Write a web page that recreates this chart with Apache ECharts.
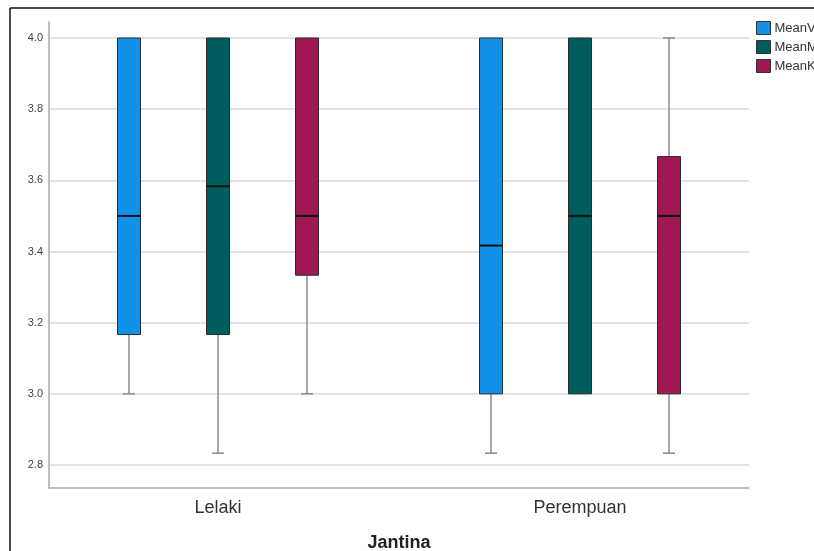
<!DOCTYPE html>
<html>
<head>
<meta charset="utf-8">
<script src="https://cdn.jsdelivr.net/npm/echarts@6/dist/echarts.min.js"></script>
<style>
html,body{margin:0;padding:0;background:#fff;}
#c{width:814px;height:551px;}
</style>
</head>
<body>
<div id="c"></div>
<script>
// ---- data ----
const categories = ['Lelaki', 'Perempuan'];
const seriesNames = ['MeanV', 'MeanM', 'MeanK'];
// each row: [min, Q1, median, Q3, max] per category
const meanV = [[3.0, 3.1667, 3.5, 4.0, 4.0], [2.8333, 3.0, 3.4167, 4.0, 4.0]];
const meanM = [[2.8333, 3.1667, 3.5833, 4.0, 4.0], [3.0, 3.0, 3.5, 4.0, 4.0]];
const meanK = [[3.0, 3.3333, 3.5, 4.0, 4.0], [2.8333, 3.0, 3.5, 3.6667, 4.0]];
const yTicks = [2.8, 3.0, 3.2, 3.4, 3.6, 3.8, 4.0];

const colors = ['#1192e8', '#005d5d', '#9f1853'];
const offsets = [-89, 0, 89];
const FONT = "'Liberation Sans', Arial, sans-serif";

const allSeries = [meanV, meanM, meanK];

function makeRender(idx) {
  return function (params, api) {
    const cat = api.value(0);
    const vmin = api.value(1), q1 = api.value(2), med = api.value(3), q3 = api.value(4), vmax = api.value(5);
    const pMin = api.coord([cat, vmin]);
    const pQ1 = api.coord([cat, q1]);
    const pMed = api.coord([cat, med]);
    const pQ3 = api.coord([cat, q3]);
    const pMax = api.coord([cat, vmax]);
    const cx = pMed[0] + offsets[idx];
    const bw = 23, cap = 12;
    const children = [];
    const wStyle = { stroke: '#8a8a8a', lineWidth: 1.5 };
    if (vmin < q1) {
      children.push({ type: 'line', shape: { x1: cx, y1: pQ1[1], x2: cx, y2: pMin[1] }, style: wStyle });
      children.push({ type: 'line', shape: { x1: cx - cap / 2, y1: pMin[1], x2: cx + cap / 2, y2: pMin[1] }, style: wStyle });
    }
    if (vmax > q3) {
      children.push({ type: 'line', shape: { x1: cx, y1: pQ3[1], x2: cx, y2: pMax[1] }, style: wStyle });
      children.push({ type: 'line', shape: { x1: cx - cap / 2, y1: pMax[1], x2: cx + cap / 2, y2: pMax[1] }, style: wStyle });
    }
    children.push({
      type: 'rect',
      shape: { x: cx - bw / 2, y: pQ3[1], width: bw, height: pQ1[1] - pQ3[1] },
      style: { fill: colors[idx], stroke: '#2b2b2b', lineWidth: 1 }
    });
    children.push({
      type: 'line',
      shape: { x1: cx - bw / 2, y1: pMed[1], x2: cx + bw / 2, y2: pMed[1] },
      style: { stroke: '#111', lineWidth: 2 }
    });
    return { type: 'group', children: children };
  };
}

const series = allSeries.map(function (arr, idx) {
  return {
    name: seriesNames[idx],
    type: 'custom',
    xAxisIndex: 2,
    yAxisIndex: 2,
    renderItem: makeRender(idx),
    itemStyle: { color: colors[idx], borderColor: '#333', borderWidth: 1 },
    encode: { x: 0, y: [1, 2, 3, 4, 5] },
    data: arr.map(function (r, ci) { return [ci].concat(r); })
  };
});

const chart = echarts.init(document.getElementById('c'), null, { renderer: 'canvas' });
chart.setOption({
  backgroundColor: '#fff',
  animation: false,
  textStyle: { fontFamily: FONT },
  legend: {
    orient: 'vertical',
    left: 751,
    top: 16,
    itemWidth: 14,
    itemHeight: 13,
    itemGap: 5,
    icon: 'rect',
    itemStyle: { borderColor: '#333', borderWidth: 1 },
    textStyle: { fontFamily: FONT, fontSize: 13, color: '#333', padding: [0, 0, 0, -1] },
    data: seriesNames
  },
  grid: [
    { left: 49, right: 65, top: 22, bottom: 63, containLabel: false, outerBoundsMode: 'none' },
    { left: 49, right: 65, top: 38, bottom: 86, containLabel: false, outerBoundsMode: 'none' },
    { left: 37, right: 53, top: 38, bottom: 86, containLabel: false, outerBoundsMode: 'none' }
  ],
  xAxis: [
    { gridIndex: 0, type: 'category', data: categories, axisLine: { lineStyle: { color: '#aaa', width: 1.5 } }, axisTick: { show: false }, axisLabel: { show: false }, splitLine: { show: false } },
    { gridIndex: 1, type: 'category', data: categories, show: false },
    {
      gridIndex: 2, type: 'category', data: categories, position: 'bottom', offset: 23,
      axisLine: { show: false }, axisTick: { show: false },
      axisLabel: { fontFamily: FONT, fontSize: 18, color: '#333', margin: 11 },
      name: 'Jantina', nameLocation: 'middle', nameGap: 46,
      nameTextStyle: { fontFamily: FONT, fontSize: 18, fontWeight: 'bold', color: '#222' }
    }
  ],
  yAxis: [
    { gridIndex: 0, type: 'value', min: 0, max: 1, axisLine: { show: true, lineStyle: { color: '#aaa', width: 1.5 } }, axisTick: { show: false }, axisLabel: { show: false }, splitLine: { show: false } },
    {
      gridIndex: 1, type: 'value', min: yTicks[0], max: yTicks[yTicks.length - 1], interval: 0.2,
      axisLine: { show: false }, axisTick: { show: false },
      axisLabel: { fontFamily: FONT, fontSize: 11, color: '#444', margin: 6, formatter: function (v) { return v.toFixed(1); } },
      splitLine: { lineStyle: { color: '#d9d9d9', width: 1.5 } }
    },
    { gridIndex: 2, type: 'value', min: yTicks[0], max: yTicks[yTicks.length - 1], show: false, splitLine: { show: false } }
  ],
  graphic: [
    { type: 'line', shape: { x1: 10, y1: 8, x2: 814, y2: 8 }, style: { stroke: '#111', lineWidth: 1.5 }, z: 100 },
    { type: 'line', shape: { x1: 10, y1: 8, x2: 10, y2: 551 }, style: { stroke: '#111', lineWidth: 1.5 }, z: 100 }
  ],
  series: series
});
</script>
</body>
</html>
